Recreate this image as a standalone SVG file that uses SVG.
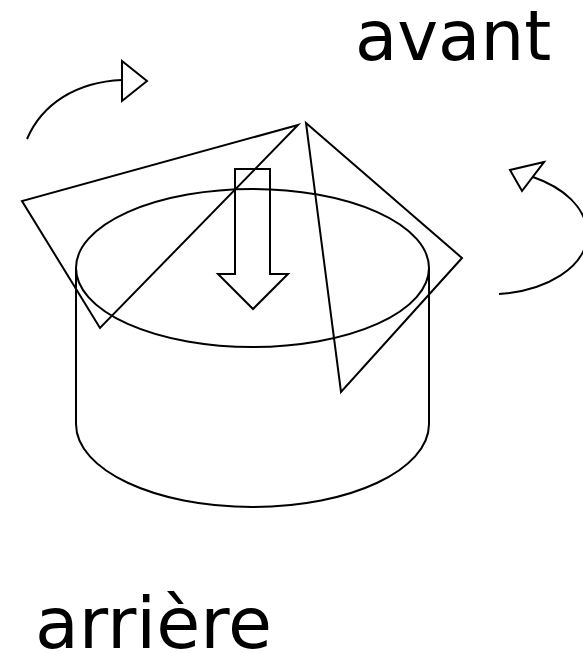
<svg xmlns="http://www.w3.org/2000/svg" width="583" height="653" viewBox="0 0 583 653">
<style>.l{fill:none;stroke:#000;stroke-width:2;stroke-linejoin:miter}.t{font-family:"DejaVu Sans",sans-serif;fill:#000}</style>
<rect width="583" height="653" fill="#fff"/>
<g id="cylinder"><path class="l" d="M76 268V424C76 470 155 507 252.500 507C350 507 429 470 429 424V268"/><ellipse class="l" cx="252.500" cy="268" rx="176.500" ry="79"/></g>
<g id="square-1"><path class="l" d="M298 125L22 201L100 328Z"/></g>
<g id="square-2"><path class="l" d="M306 123L462 258L341 392Z"/></g>
<g id="arrow-down"><path class="l" d="M235 169H270V274H288L253 309L218 274H235Z"/></g>
<g id="connectors"><path class="l" d="M27 139C42 104 76 82 122 80"/><path class="l" d="M122 61L147 81L122 101Z"/><path class="l" d="M499 294C545 291 587 268 587 234C587 207 562 187 533 177"/><path class="l" d="M544 162L510 170L522 191Z"/></g>
<g id="label-avant"><text class="t" font-size="69" x="355" y="60">avant</text></g>
<g id="label-arriere"><text class="t" font-size="71.500" x="35" y="648">arrière</text></g>
</svg>
